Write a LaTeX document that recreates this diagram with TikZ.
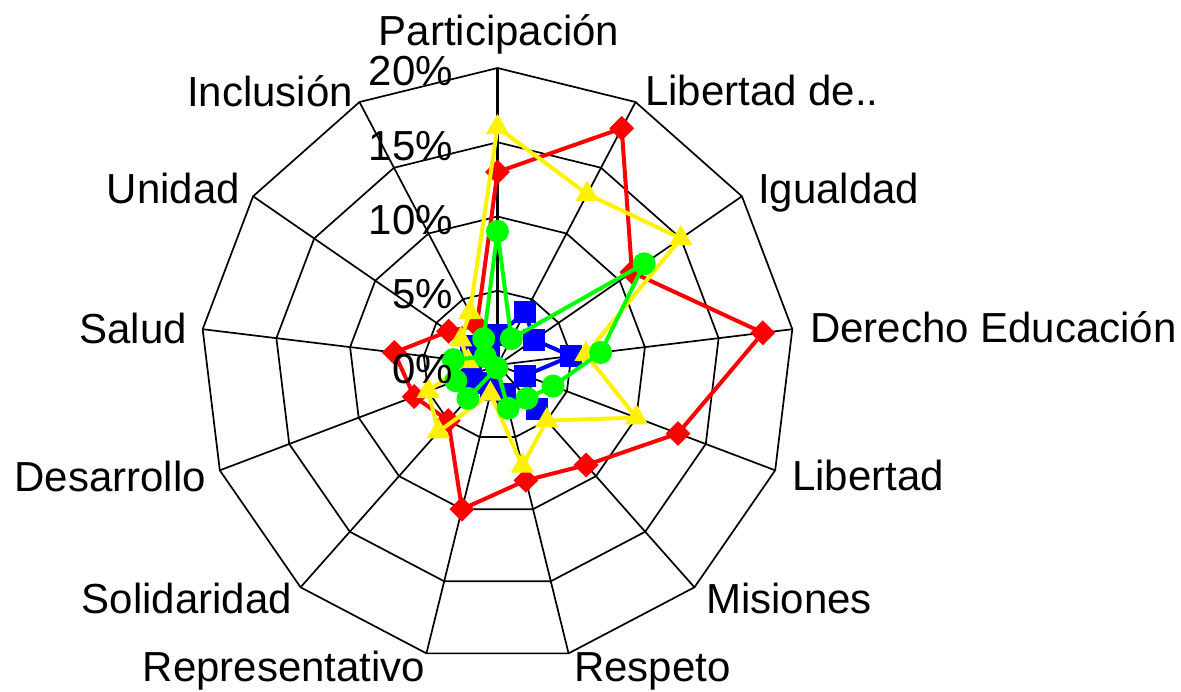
\documentclass[tikz,border=0pt]{standalone}
\usepackage{fontspec}
\setmainfont{Liberation Sans}
\usetikzlibrary{shapes.geometric}
\begin{document}
\begin{tikzpicture}[x=1pt,y=1pt,
  gridline/.style={draw=black, line width=1.7pt, line join=miter},
  lab/.style={font=\fontsize{42}{50}\selectfont, inner sep=0pt},
  serline/.style={line width=4pt, line join=round},
  mdia/.style={diamond, fill=red, minimum width=25pt, minimum height=25pt, inner sep=0pt},
  msq/.style={rectangle, fill=blue, minimum size=22pt, inner sep=0pt},
  mtri/.style={regular polygon, regular polygon sides=3, fill=yellow, minimum size=27pt, inner sep=0pt},
  mcirc/.style={circle, fill=green, minimum size=23pt, inner sep=0pt},
]
\useasboundingbox (0,0) rectangle (1181,-691);
\fill[white] (0,0) rectangle (1181,-691);
\begin{scope}[shift={(497.5,-365)}]
  \def\U{14.85}
  % grid rings
  \foreach \r in {1,2,3,4} {
    \draw[gridline] (90:\r*74.25) \foreach \k in {1,...,12} { -- ({90-\k*360/13}:\r*74.25) } -- cycle;
  }
  % spokes
  \foreach \k in {1,...,12} \draw[gridline] (0,0) -- ({90-\k*360/13}:297);
  \draw[gridline, line width=2.4pt] (0,0) -- (90:297);
  % data coordinates
  \foreach \v [count=\k from 0] in {13,18,11,18,13,9,8,10,5,6,7,4,3}
    \coordinate (r\k) at ({90-\k*360/13}:\v*\U);
  \foreach \v [count=\k from 0] in {2,4,3,5,2,4,2,1.7,1.6,2.5,1.8,2.2,1.2}
    \coordinate (b\k) at ({90-\k*360/13}:\v*\U);
  \foreach \v [count=\k from 0] in {16,13,15,6,10,5,7,2,6,5,2,3,4}
    \coordinate (y\k) at ({90-\k*360/13}:\v*\U);
  \foreach \v [count=\k from 0] in {9,2,12,7,4,3,3,0.2,3,3,3,1,2}
    \coordinate (g\k) at ({90-\k*360/13}:\v*\U);
  % red series
  \draw[serline, red] (r0) \foreach \k in {1,...,12} { -- (r\k) } -- cycle;
  \foreach \k in {0,...,12} \node[mdia] (rm\k) at (r\k) {};
  % blue series
  \draw[serline, blue] (b0) \foreach \k in {1,...,12} { -- (b\k) } -- cycle;
  \foreach \k in {0,...,12} \node[msq] (bm\k) at (b\k) {};
  % yellow series
  \draw[serline, yellow] (y0) \foreach \k in {1,...,12} { -- (y\k) } -- cycle;
  \foreach \k in {0,...,12} \node[mtri] (ym\k) at (y\k) {};
  % green series
  \draw[serline, green] (g0) \foreach \k in {1,...,12} { -- (g\k) } -- cycle;
  \foreach \k in {0,...,12} \node[mcirc] (gm\k) at (g\k) {};
\end{scope}
% tick labels
\node[lab, anchor=base east] (t0) at (453,-383) {0\%};
\node[lab, anchor=base east] (t5) at (453,-308.7) {5\%};
\node[lab, anchor=base east] (t10) at (453,-234.4) {10\%};
\node[lab, anchor=base east] (t15) at (453,-160.1) {15\%};
\node[lab, anchor=base east] (t20) at (453,-85.8) {20\%};
% axis labels
\node[lab, anchor=base] (l0) at (499,-45) {Participación};
\node[lab, anchor=base west] (l1) at (645,-105) {Libertad de..};
\node[lab, anchor=base west] (l2) at (758,-203) {Igualdad};
\node[lab, anchor=base west] (l3) at (810,-342) {Derecho Educación};
\node[lab, anchor=base west] (l4) at (792,-490) {Libertad};
\node[lab, anchor=base west] (l5) at (706,-613) {Misiones};
\node[lab, anchor=base west] (l6) at (574,-681) {Respeto};
\node[lab, anchor=base] (l7) at (284,-681) {Representativo};
\node[lab, anchor=base east] (l8) at (292,-613) {Solidaridad};
\node[lab, anchor=base east] (l9) at (206,-491) {Desarrollo};
\node[lab, anchor=base east] (l10) at (187,-343) {Salud};
\node[lab, anchor=base east] (l11) at (240,-203) {Unidad};
\node[lab, anchor=base east] (l12) at (353,-106) {Inclusión};
\end{tikzpicture}
\end{document}
